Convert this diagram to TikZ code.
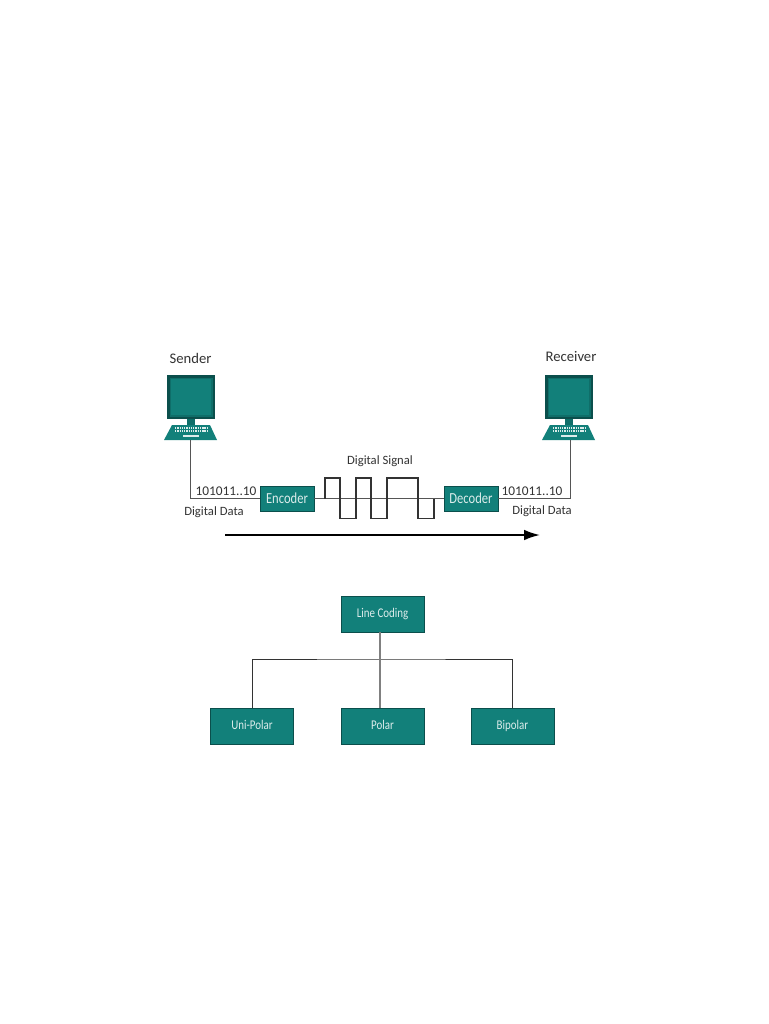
\documentclass[tikz,border=0pt]{standalone}
\usepackage{fontspec}
\usetikzlibrary{arrows.meta}
\setmainfont{Carlito}
\newfontfamily\condfont[FakeStretch=0.82]{Carlito}
\definecolor{teal1}{HTML}{12807A}
\definecolor{teal2}{HTML}{0F6E69}
\definecolor{tealdark}{HTML}{0B4F4C}
\definecolor{wire}{HTML}{555555}
\definecolor{txt}{HTML}{333333}
\tikzset{
  tbox/.style={draw=tealdark,line width=0.6pt,fill=teal1,text=white!85!teal1,inner sep=0pt,text height=7pt,text depth=2pt,font=\condfont\fontsize{10}{11}\selectfont},
  wbox/.style={draw=tealdark,line width=0.6pt,fill=teal1,text=white!85!teal1,inner sep=0pt,text height=7.5pt,text depth=0.5pt,font=\condfont\fontsize{11.5}{13}\selectfont},
  lab/.style={text=txt,inner sep=0pt,font=\fontsize{10}{12}\selectfont},
  lab2/.style={text=txt,inner sep=0pt,font=\fontsize{9.5}{11}\selectfont},
  wireline/.style={draw=wire,line width=0.9pt},
  treeline/.style={draw=black!80,line width=0.6pt},
  sigline/.style={draw=black!80,line width=1.3pt,line join=miter},
}
\newcommand{\computer}[3]{%
  \begin{scope}[shift={(#1,375)}]
    \fill[tealdark] (0,0) rectangle (48,44);
    \fill[teal2] (2.5,2.5) rectangle (45.5,41.5);
    \fill[teal1] (4,4) rectangle (44,40);
    \fill[teal2] (20,44) rectangle (28,50);
    \fill[teal1] (5,50) -- (43,50) -- (50,65) -- (-3,65) -- cycle;
    \foreach \yy in {53,56}{\draw[white!85!teal1,line width=1pt,dash pattern=on 1pt off 0.7pt] (8,\yy) -- (40,\yy);}
    \fill[white!85!teal1] (16,60) rectangle (32,61.5);
    \coordinate (#2) at (#3,65);
  \end{scope}}
\begin{document}
\begin{tikzpicture}[x=0.75pt,y=-0.75pt]
\useasboundingbox (0,0) rectangle (768,1024);
\fill[white] (0,0) rectangle (768,1024);
\computer{167}{skb}{23.5}
\computer{545}{rkb}{25.5}
\node[lab] (sender) at (190.5,358) {\fontsize{11}{13}\selectfont Sender};
\node[lab] (receiver) at (571,356.5) {\fontsize{11}{13}\selectfont Receiver};
\node[wbox,minimum width=40.5pt,minimum height=18.75pt] (enc) at (287,498.5) {Encoder};
\node[wbox,minimum width=40.5pt,minimum height=18.75pt] (dec) at (471,498.5) {Decoder};
\node[lab] (d1) at (226,491.5) {101011..10};
\node[lab] (d2) at (532,491.5) {101011..10};
\node[lab2] (dd1) at (214,512) {Digital Data};
\node[lab2] (dd2) at (542,511.5) {Digital Data};
\node[lab2] (ds) at (380,461) {Digital Signal};
\draw[wireline] (skb) |- (enc.west);
\draw[wireline] (rkb) |- (dec.east);
\draw[wireline] (enc.east) -- (dec.west);
\draw[sigline] (325,498.5) |- (340,478) |- (356,518.5) |- (371,478) |- (387,518.5) |- (418,478) |- (434,518.5) -- (434,498.5);
\coordinate (a1) at (225,535);
\coordinate (a2) at (540,535);
\draw[draw=black,line width=1.4pt,-{Latex[length=12pt,width=8pt]}] (a1) -- (a2);
\node[tbox,minimum width=62.25pt,minimum height=27pt] (lc) at (382.5,614) {Line Coding};
\node[tbox,minimum width=62.25pt,minimum height=27pt] (up) at (252,726.5) {Uni-Polar};
\node[tbox,minimum width=62.25pt,minimum height=27pt] (po) at (382.5,726.5) {Polar};
\node[tbox,minimum width=62.25pt,minimum height=27pt] (bp) at (512.5,726.5) {Bipolar};
\coordinate (j) at (380,659);
\draw[treeline] (up.north) |- (j) -| (bp.north);
\draw[draw=black!50,line width=0.9pt] (380,632) -- (j) -- (380,708);
\end{tikzpicture}
\end{document}
